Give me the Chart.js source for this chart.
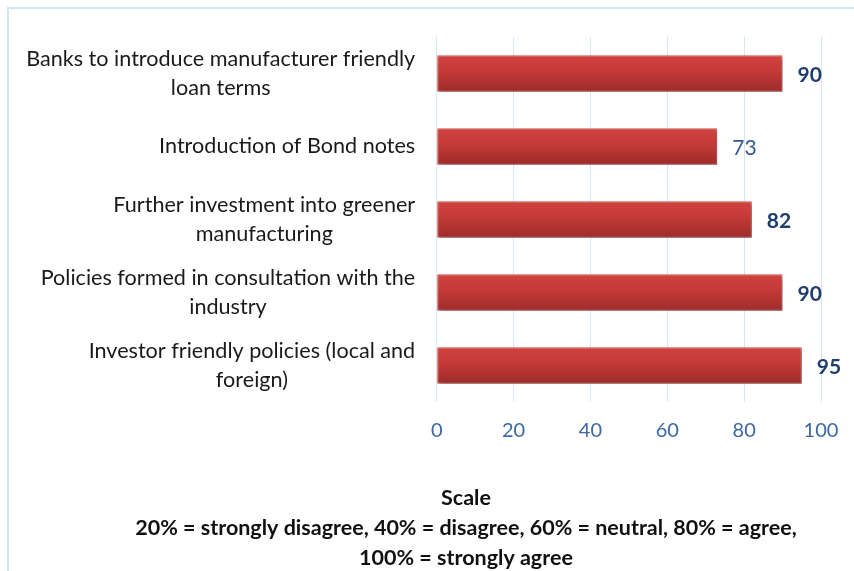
<!DOCTYPE html>
<html><head><meta charset="utf-8">
<script src="https://cdn.jsdelivr.net/npm/chart.js@4.4.1/dist/chart.umd.min.js"></script>
<style>
html,body{margin:0;padding:0;overflow:hidden;background:#fff;width:854px;height:571px;}
#frame{position:absolute;left:7px;top:7px;width:914px;height:600px;border:2px solid #d5e2f3;}
#wrap{position:absolute;left:0;top:0;width:914px;height:564px;}
</style></head><body>
<div id="frame"><div id="wrap"><canvas id="c"></canvas></div></div>
<script>
const categories = [
  ['Banks to introduce manufacturer friendly', 'loan terms'],
  ['Introduction of Bond notes'],
  ['Further investment into greener', 'manufacturing'],
  ['Policies formed in consultation with the', 'industry'],
  ['Investor friendly policies (local and', 'foreign)']
];
const values = [90, 73, 82, 90, 95];
const xTicks = [0, 20, 40, 60, 80, 100];
const scaleNote = ['Scale', '20% = strongly disagree, 40% = disagree, 60% = neutral, 80% = agree,', '100% = strongly agree'];

// styling (not data)
const valueBold = [true, false, true, true, true];
const FONT = 'Lato, "Open Sans", sans-serif';

const shadowPlugin = {
  id: 'barShadow',
  beforeDatasetsDraw(chart) {
    const c = chart.ctx; c.save();
    c.shadowColor = 'rgba(0,0,0,0.35)'; c.shadowBlur = 4; c.shadowOffsetX = 2; c.shadowOffsetY = 3;
  },
  afterDatasetsDraw(chart) { chart.ctx.restore(); }
};

const labelPlugin = {
  id: 'labels',
  afterDatasetsDraw(chart) {
    const c = chart.ctx;
    const meta = chart.getDatasetMeta(0);
    c.save();
    c.textBaseline = 'middle';
    c.textAlign = 'left';
    meta.data.forEach((bar, i) => {
      c.font = (valueBold[i] ? 'bold ' : '') + '21px ' + FONT;
      c.fillStyle = valueBold[i] ? '#1f3e6e' : '#2f5891';
      c.fillText(String(values[i]), bar.x + 15, bar.y + 2);
    });
    // category labels: right-aligned block, centered lines
    const ys = chart.scales.y;
    const right = chart.chartArea.left - 21.5;
    const lh = 28.7;
    c.font = '21.6px ' + FONT;
    c.fillStyle = '#1a1a1a';
    c.textAlign = 'center';
    categories.forEach((lines, i) => {
      const yc = ys.getPixelForTick(i);
      const w = Math.max(...lines.map(l => c.measureText(l).width));
      const cx = right - w / 2;
      const y0 = yc - (lines.length - 1) * lh / 2;
      lines.forEach((l, k) => c.fillText(l, cx, y0 + k * lh));
    });
    c.restore();
  }
};

new Chart(document.getElementById('c'), {
  type: 'bar',
  data: {
    labels: categories,
    datasets: [{
      data: values,
      barPercentage: 0.5,
      categoryPercentage: 1,
      borderWidth: 1,
      borderColor: '#d4514b',
      borderSkipped: false,
      backgroundColor: (ctx) => {
        const ch = ctx.chart;
        const ys = ch.scales && ch.scales.y;
        if (!ch.chartArea || !ys) return '#bb3533';
        const yc = ys.getPixelForValue(ctx.dataIndex);
        const h = (ys.bottom - ys.top) / categories.length * 0.5;
        const g = ch.ctx.createLinearGradient(0, yc - h / 2, 0, yc + h / 2);
        g.addColorStop(0, '#d2423f');
        g.addColorStop(0.45, '#c23a37');
        g.addColorStop(1, '#9e2b2a');
        return g;
      }
    }]
  },
  plugins: [shadowPlugin, labelPlugin],
  options: {
    indexAxis: 'y',
    responsive: true,
    maintainAspectRatio: false,
    animation: false,
    layout: { padding: { top: 28, right: 0, left: 0, bottom: 0 } },
    plugins: {
      legend: { display: false },
      tooltip: { enabled: false },
      title: {
        display: true,
        position: 'bottom',
        text: scaleNote,
        color: '#111',
        font: { family: FONT, size: 21.5, weight: 'bold', lineHeight: 30 / 21.5 },
        padding: { top: 0, bottom: 0 }
      }
    },
    scales: {
      x: {
        min: 0, max: 100,
        afterBuildTicks: (s) => { s.ticks = xTicks.map(v => ({ value: v })); },
        grid: { color: '#d9e4f2', lineWidth: 1, drawTicks: false },
        border: { display: false },
        ticks: { color: '#3c68a3', font: { family: FONT, size: 20 }, padding: 17 },
        afterFit: (s) => { s.height = 81; }
      },
      y: {
        grid: { display: false },
        border: { display: false },
        ticks: { display: false },
        afterFit: (s) => { s.width = 427.7; }
      },
      yRight: {
        type: 'category',
        position: 'right',
        grid: { display: false },
        border: { display: false },
        ticks: { display: false },
        afterFit: (s) => { s.width = 102; }
      }
    }
  }
});
</script>
</body></html>
